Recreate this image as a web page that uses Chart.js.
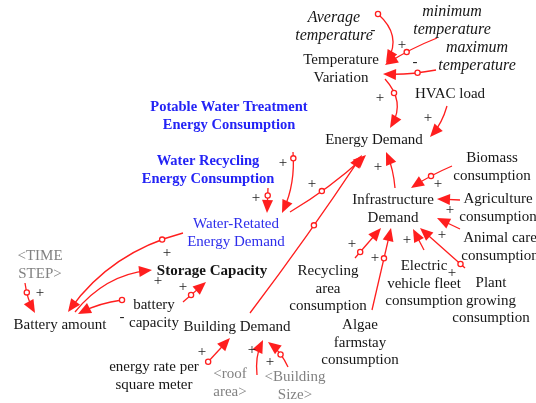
<!DOCTYPE html>
<html>
<head>
<meta charset="utf-8">
<script src="https://cdn.jsdelivr.net/npm/chart.js@4.4.0/dist/chart.umd.min.js"></script>
<style>
  body { margin: 0; background: #fff; }
  #wrap { width: 536px; height: 403px; }
</style>
</head>
<body>
<div id="wrap"><canvas id="diagram"></canvas></div>
<script>
// variables of the causal loop diagram
const nodeLabels = [
    'Average\ntemperature', 'minimum\ntemperature', 'maximum\ntemperature',
    'Temperature\nVariation', 'HVAC load', 'Energy Demand',
    'Potable Water Treatment\nEnergy Consumption', 'Water Recycling\nEnergy Consumption',
    'Water-Retated\nEnergy Demand', 'Infrastructure\nDemand',
    'Biomass\nconsumption', 'Agriculture\nconsumption', 'Animal care\nconsumption',
    'Plant\ngrowing\nconsumption', 'Electric\nvehicle fleet\nconsumption',
    'Recycling\narea\nconsumption', 'Algae\nfarmstay\nconsumption',
    '<TIME\nSTEP>', 'Storage Capacity', 'battery\ncapacity', 'Battery amount',
    'Building Demand', 'energy rate per\nsquare meter', '<roof\narea>', '<Building\nSize>'
];
const nodeX = [334, 452, 477, 341, 450, 374, 229, 208, 236, 393, 492, 498, 500, 491, 424, 328, 360, 40, 212, 154, 60, 237, 154, 230, 295];
const nodeY = [27, 21, 57, 69, 94, 140, 116, 170, 233, 209, 167, 208, 247, 301, 284, 289, 343, 265, 271, 314, 325, 327, 376, 383, 386];
// kind: t = temperature input, v = variable, w = water stock, wd = water demand, s = shadow, k = key variable
const nodeKind = ['t', 't', 't', 'v', 'v', 'v', 'w', 'w', 'wd', 'v', 'v', 'v', 'v', 'v', 'v', 'v', 'v', 's', 'k', 'v', 'v', 'v', 'v', 's', 's'];

// causal links: tail point, head point, curvature, handle position
const linkTailX = [378, 437, 436, 385, 447, 293, 268, 290, 250, 395, 452, 460, 460, 465, 424, 372, 355, 183, 75, 122, 183, 25, 207, 257, 288];
const linkTailY = [14, 38, 70, 79, 106, 152, 188, 212, 313, 188, 166, 200, 229, 268, 250, 310, 258, 233, 312, 300, 302, 283, 363, 375, 367];
const linkHeadX = [386, 385, 383, 390, 430, 282, 267, 366, 362, 386, 411, 437, 437, 420, 413, 391, 381, 68, 152, 78, 206, 35, 230, 263, 268];
const linkHeadY = [63, 65, 74, 128, 137, 213, 213, 155, 155, 152, 188, 199, 218, 228, 229, 228, 228, 312, 270, 314, 282, 313, 338, 340, 342];
const linkBend = [-20, 3, -3, -18, -4, -8, 0, 5, 3, 3, 2, 0, 0, 0, 0, 0, 0, 25, -18, 4, 0, 3, 0, -5, 4];
const linkHandle = [0, 0.57, 0.35, 0.3, -1, 0.1, 0.3, 0.4, 0.56, -1, 0.5, -1, -1, 0.1, -1, 0.63, 0.2, 0.15, -1, 0, 0.35, 0.3, 0.05, -1, 0.45];

// polarity marks
const signText = ['-', '+', '-', '+', '+', '+', '+', '+', '+', '+', '+', '+', '+', '+', '+', '+', '+', '+', '+', '+', '-', '+', '+', '+'];
const signX = [373, 402, 415, 380, 428, 283, 256, 312, 378, 438, 450, 442, 407, 352, 375, 452, 167, 158, 183, 40, 122, 202, 252, 270];
const signY = [30, 45, 62, 98, 118, 163, 198, 184, 167, 184, 210, 235, 240, 244, 258, 273, 253, 281, 287, 293, 317, 352, 350, 362];

const RED = 'rgb(255, 30, 30)';

function kindFont(kind) {
    if (kind === 't') return 'italic 16px "Liberation Serif"';
    if (kind === 'w') return 'bold 14.5px "Liberation Serif"';
    if (kind === 'k') return 'bold 15px "Liberation Serif"';
    return '15px "Liberation Serif"';
}
function kindColor(kind) {
    if (kind === 'w') return 'rgb(35, 35, 245)';
    if (kind === 'wd') return 'rgb(45, 45, 235)';
    if (kind === 's') return 'rgb(130, 130, 130)';
    return '#161616';
}

const diagramPlugin = {
    id: 'diagram',
    afterDatasetsDraw(chart) {
        const ctx = chart.ctx;
        const xs = chart.scales.x;
        const ys = chart.scales.y;
        const px = (v) => xs.getPixelForValue(v);
        const py = (v) => ys.getPixelForValue(v);

        ctx.save();
        // links
        for (let i = 0; i < linkTailX.length; i++) {
            const x0 = px(linkTailX[i]), y0 = py(linkTailY[i]);
            const x1 = px(linkHeadX[i]), y1 = py(linkHeadY[i]);
            const dx = x1 - x0, dy = y1 - y0;
            const len = Math.hypot(dx, dy);
            const nx = -dy / len, ny = dx / len;
            const cx = (x0 + x1) / 2 + linkBend[i] * nx;
            const cy = (y0 + y1) / 2 + linkBend[i] * ny;

            // head direction
            const hx = x1 - cx, hy = y1 - cy;
            const hl = Math.hypot(hx, hy);
            const ux = hx / hl, uy = hy / hl;
            const aLen = 13, aW = 5.5;
            const bx = x1 - ux * aLen, by = y1 - uy * aLen;

            ctx.strokeStyle = RED;
            ctx.lineWidth = 1.3;
            ctx.beginPath();
            ctx.moveTo(x0, y0);
            ctx.quadraticCurveTo(cx, cy, x1 - ux * 4, y1 - uy * 4);
            ctx.stroke();

            ctx.fillStyle = RED;
            ctx.beginPath();
            ctx.moveTo(x1, y1);
            ctx.lineTo(bx - uy * aW, by + ux * aW);
            ctx.lineTo(bx + uy * aW, by - ux * aW);
            ctx.closePath();
            ctx.fill();

            const t = linkHandle[i];
            if (t >= 0) {
                const qx = (1 - t) * (1 - t) * x0 + 2 * (1 - t) * t * cx + t * t * x1;
                const qy = (1 - t) * (1 - t) * y0 + 2 * (1 - t) * t * cy + t * t * y1;
                ctx.fillStyle = '#fff';
                ctx.beginPath();
                ctx.arc(qx, qy, 2.6, 0, Math.PI * 2);
                ctx.fill();
                ctx.stroke();
            }
        }

        // polarity
        ctx.fillStyle = '#222';
        ctx.font = '15px "Liberation Serif"';
        ctx.textAlign = 'center';
        ctx.textBaseline = 'middle';
        for (let i = 0; i < signText.length; i++) {
            ctx.fillText(signText[i], px(signX[i]), py(signY[i]));
        }

        // variable names
        const lineH = 17.5;
        for (let i = 0; i < nodeLabels.length; i++) {
            const lines = nodeLabels[i].split('\n');
            ctx.font = kindFont(nodeKind[i]);
            ctx.fillStyle = kindColor(nodeKind[i]);
            const top = py(nodeY[i]) - (lines.length - 1) * lineH / 2;
            lines.forEach((ln, j) => {
                ctx.fillText(ln, px(nodeX[i]), top + j * lineH);
            });
        }
        ctx.restore();
    }
};

new Chart(document.getElementById('diagram'), {
    type: 'scatter',
    data: {
        datasets: [{
            label: 'variables',
            data: nodeX.map((x, i) => ({ x: x, y: nodeY[i] })),
            pointRadius: 0,
        }],
    },
    options: {
        responsive: true,
        maintainAspectRatio: false,
        animation: false,
        layout: { padding: 0 },
        plugins: { legend: { display: false }, tooltip: { enabled: false } },
        scales: {
            x: { type: 'linear', min: 0, max: 536, display: false },
            y: { type: 'linear', min: 0, max: 403, reverse: true, display: false },
        },
    },
    plugins: [diagramPlugin],
});
</script>
</body>
</html>
